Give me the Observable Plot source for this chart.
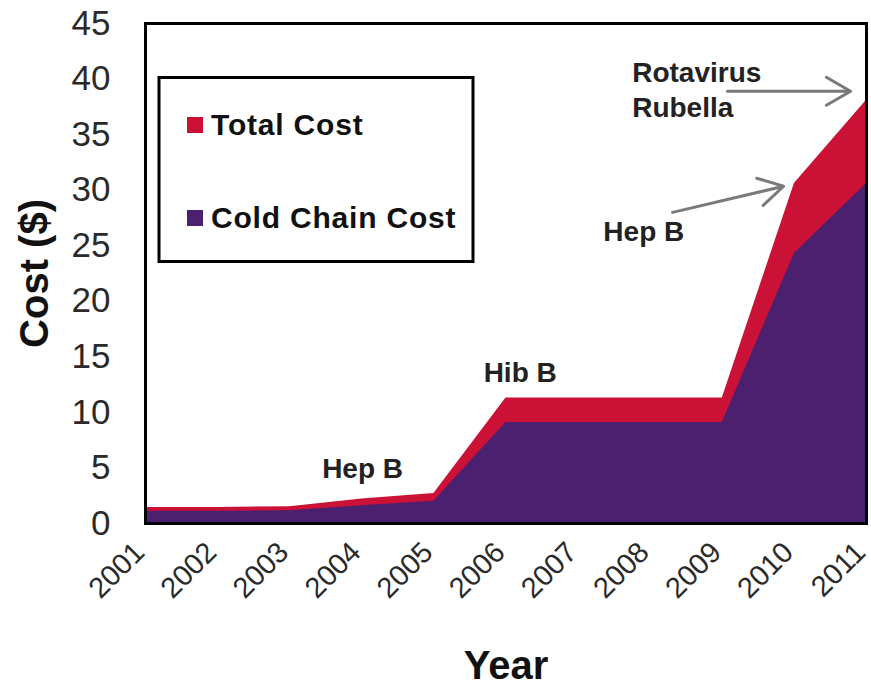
<!DOCTYPE html>
<html>
<head>
<meta charset="utf-8">
<script src="https://cdn.jsdelivr.net/npm/d3@7"></script>
<script src="https://cdn.jsdelivr.net/npm/@observablehq/plot@0.6"></script>
<style>
  html, body { margin: 0; padding: 0; background: #fff; }
  #chart { width: 871px; height: 687px; }
</style>
</head>
<body>
<div id="chart"></div>
<script>
// ---- data ----
const years = [2001, 2002, 2003, 2004, 2005, 2006, 2007, 2008, 2009, 2010, 2011];
const totalCost = [1.45, 1.45, 1.5, 2.2, 2.7, 11.3, 11.3, 11.3, 11.3, 30.6, 38.1];
const coldChainCost = [1.1, 1.1, 1.15, 1.6, 2.0, 9.1, 9.1, 9.1, 9.1, 24.3, 30.6];
const yTicks = [0, 5, 10, 15, 20, 25, 30, 35, 40, 45];
const seriesNames = ["Total Cost", "Cold Chain Cost"];

// annotation labels (anchored in data space: year, cost at text baseline)
const annText = ["Hep B", "Hib B", "Hep B", "Rotavirus", "Rubella"];
const annYear = [2003.45, 2005.69, 2007.35, 2007.75, 2007.75];
const annCost = [4.1, 12.7, 25.4, 39.75, 36.6];

// arrows (data space)
const arrowFromYear = [2008.31, 2009.07];
const arrowFromCost = [28.0, 38.9];
const arrowToYear = [2009.85, 2010.78];
const arrowToCost = [30.35, 38.9];

const colors = {total: "#cb1236", cold: "#4b206f"};

const data = years.map((y, i) => ({year: y, total: totalCost[i], cold: coldChainCost[i]}));
const annotations = annText.map((t, i) => ({text: t, x: annYear[i], y: annCost[i]}));
const arrows = arrowFromYear.map((x, i) => ({x1: x, y1: arrowFromCost[i], x2: arrowToYear[i], y2: arrowToCost[i]}));

const font = "'Liberation Sans', Arial, Helvetica, sans-serif";

const chart = Plot.plot({
  width: 871,
  height: 687,
  marginLeft: 145,
  marginRight: 5,
  marginTop: 23,
  marginBottom: 164,
  style: {fontFamily: font, background: "#fff", color: "#222", overflow: "visible"},
  x: {domain: [2001, 2011]},
  y: {domain: [0, 45]},
  marks: [
    Plot.areaY(data, {x: "year", y: "total", fill: colors.total}),
    Plot.areaY(data, {x: "year", y: "cold", fill: colors.cold}),
    Plot.text(annotations, {x: "x", y: "y", text: "text", textAnchor: "start", lineAnchor: "bottom",
      fontSize: 28, fontWeight: "bold", fill: "#222"}),
    Plot.arrow(arrows, {x1: "x1", y1: "y1", x2: "x2", y2: "y2", stroke: "#7a7a7a", strokeWidth: 3, headLength: 14}),
    Plot.frame({stroke: "#000", strokeWidth: 3}),
    Plot.axisY(yTicks, {tickSize: 0, tickPadding: 35, fontSize: 35, label: null, fill: "#2a2a2a"}),
    Plot.axisX(years, {tickSize: 0, tickPadding: 24, tickRotate: -45, fontSize: 29, label: null, dx: -6,
      tickFormat: d => String(d), fill: "#2a2a2a"}),
    Plot.text(["Cost ($)"], {frameAnchor: "left", dx: -110, rotate: -90, fontSize: 40, fontWeight: "bold",
      fill: "#111", textAnchor: "middle", lineAnchor: "middle"}),
    Plot.text(["Year"], {frameAnchor: "bottom", dy: 155, fontSize: 40, fontWeight: "bold",
      fill: "#111", textAnchor: "middle", lineAnchor: "bottom"})
  ]
});

// legend box drawn inside the plot
const svg = d3.select(chart);
const lg = svg.append("g").attr("font-family", font).attr("text-anchor", "start");
lg.append("rect").attr("x", 159).attr("y", 77.5).attr("width", 314).attr("height", 184)
  .attr("fill", "#fff").attr("stroke", "#000").attr("stroke-width", 3);
const legendColors = [colors.total, colors.cold];
const rowY = [135, 228];
seriesNames.forEach((name, i) => {
  lg.append("rect").attr("x", 187).attr("y", rowY[i] - 18).attr("width", 16).attr("height", 16)
    .attr("fill", legendColors[i]);
  lg.append("text").attr("x", 211).attr("y", rowY[i]).attr("font-size", 30).attr("font-weight", "bold")
    .attr("letter-spacing", 0.8).attr("text-anchor", "start").attr("fill", "#111").text(name);
});

document.getElementById("chart").appendChild(chart);
</script>
</body>
</html>
